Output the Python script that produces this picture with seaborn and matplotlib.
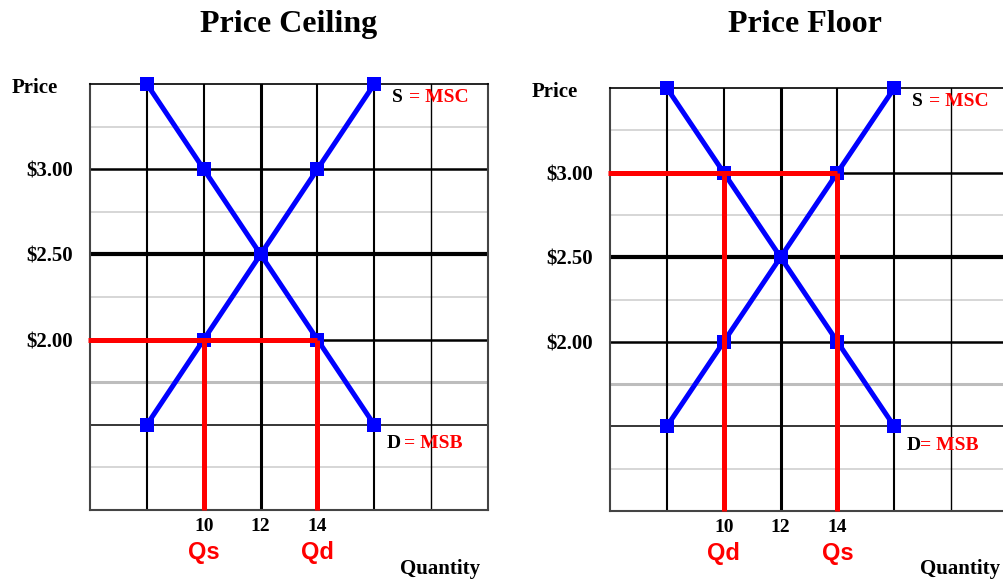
import numpy as np
import pandas as pd
import matplotlib
matplotlib.use("Agg")
import matplotlib.pyplot as plt
import seaborn as sns

# Supply / demand schedule (quantity vs price)
quantity = [8, 10, 12, 14, 16]
demand_price = [3.50, 3.00, 2.50, 2.00, 1.50]
supply_price = [1.50, 2.00, 2.50, 3.00, 3.50]

# Price controls
ceiling_price = 2.00
floor_price = 3.00

# Axis labelling
price_ticks = [3.00, 2.50, 2.00]
price_labels = ["$3.00", "$2.50", "$2.00"]
qty_ticks = [10, 12, 14]
qty_labels = ["10", "12", "14"]

sns.set_style("white")
plt.rcParams["font.family"] = ["Liberation Serif", "DejaVu Serif"]
plt.rcParams["text.color"] = "black"
plt.rcParams["xtick.color"] = "black"
plt.rcParams["ytick.color"] = "black"
plt.rcParams["axes.labelcolor"] = "black"

BLUE = "#0000FF"
RED = "#FF0000"
SERIF = ["Liberation Serif", "DejaVu Serif"]
SANS = ["Liberation Sans", "DejaVu Sans"]

fig = plt.figure(figsize=(10.04, 5.84), dpi=100)
W, H = 1004, 584


def px_axes(left, top, right, bottom):
    return fig.add_axes([left / W, 1 - bottom / H, (right - left) / W, (bottom - top) / H])


def draw_grid(ax):
    # quarter-dollar gridlines
    for p in [3.25, 2.75, 2.25, 1.25]:
        ax.axhline(p, color="#cccccc", lw=1.1, zorder=1)
    ax.axhline(1.75, color="#bdbdbd", lw=2.2, zorder=1)
    # half-dollar gridlines
    ax.axhline(3.00, color="black", lw=1.8, zorder=2)
    ax.axhline(2.50, color="black", lw=3.0, zorder=2)
    ax.axhline(2.00, color="black", lw=1.8, zorder=2)
    ax.axhline(1.50, color="black", lw=1.1, zorder=2)
    # quantity gridlines
    for q, w in [(8, 1.5), (10, 1.5), (12, 2.2), (14, 1.5), (16, 1.5), (18, 1.0)]:
        ax.axvline(q, color="black", lw=w, zorder=2)


def draw_panel(ax, title, title_x, control_price, left_tag, right_tag, d_gap):
    ax.set_xlim(6, 20)
    ax.set_ylim(1.0, 3.5)
    draw_grid(ax)

    for side in ["left", "bottom", "right"]:
        ax.spines[side].set_color("#444444")
        ax.spines[side].set_linewidth(1.5)
    ax.spines["top"].set_color("black")
    ax.spines["top"].set_linewidth(1.2)
    for s in ax.spines.values():
        s.set_zorder(3)

    df = pd.DataFrame({"Quantity": quantity, "Demand": demand_price, "Supply": supply_price})
    for col in ["Demand", "Supply"]:
        sns.lineplot(data=df, x="Quantity", y=col, ax=ax, color=BLUE, lw=3.6,
                     marker="s", markersize=9.5, markeredgewidth=0,
                     sort=False, zorder=4, clip_on=False)

    # quantities where the controlled price meets each curve
    q_demand = np.interp(control_price, demand_price[::-1], quantity[::-1])
    q_supply = np.interp(control_price, supply_price, quantity)
    q_lo, q_hi = min(q_demand, q_supply), max(q_demand, q_supply)

    ax.plot([5.93, q_hi], [control_price, control_price], color=RED, lw=3.6,
            zorder=5, clip_on=False, solid_capstyle="butt")
    for q in (q_lo, q_hi):
        ax.plot([q, q], [control_price, 1.0], color=RED, lw=3.6, zorder=5,
                solid_capstyle="butt", clip_on=False)

    ax.set_xticks(qty_ticks)
    ax.set_xticklabels(qty_labels, fontsize=14, fontweight="bold", family=SERIF)
    ax.set_yticks(price_ticks)
    ax.set_yticklabels(price_labels, fontsize=15, fontweight="bold", family=SERIF)
    ax.tick_params(axis="x", length=0, pad=6)
    ax.tick_params(axis="y", length=0, pad=12)
    ax.set_xlabel("")
    ax.set_ylabel("")

    fig.text(title_x / W, 1 - 32 / H, title, ha="center", va="baseline",
             fontsize=23, fontweight="bold", family=SERIF, color="black")

    ax.text(-0.196, 0.99, "Price", transform=ax.transAxes, ha="left", va="center",
            fontsize=15, fontweight="bold", family=SERIF)
    ax.text(0.78, -0.138, "Quantity", transform=ax.transAxes, ha="left", va="center",
            fontsize=15, fontweight="bold", family=SERIF)

    ax.text(q_lo, -0.10, left_tag, transform=ax.get_xaxis_transform(), ha="center",
            va="center", color=RED, fontsize=17, fontweight="bold", family=SANS)
    ax.text(q_hi, -0.10, right_tag, transform=ax.get_xaxis_transform(), ha="center",
            va="center", color=RED, fontsize=17, fontweight="bold", family=SANS)

    # curve labels
    ax.text(16.62, 3.42, "S", ha="left", va="center", fontsize=14, fontweight="bold",
            family=SERIF, color="black", zorder=6)
    ax.text(17.22, 3.42, "= MSC", ha="left", va="center", fontsize=14, fontweight="bold",
            family=SERIF, color=RED, zorder=6)
    ax.text(16.45, 1.39, "D", ha="left", va="center", fontsize=14,
            fontweight="bold", family=SERIF, color="black", zorder=6)
    ax.text(16.45 + d_gap, 1.39, "= MSB", ha="left", va="center", fontsize=14,
            fontweight="bold", family=SERIF, color=RED, zorder=6)


ax1 = px_axes(90, 84, 488, 510)
draw_panel(ax1, "Price Ceiling", 289, ceiling_price, "Qs", "Qd", 0.58)

ax2 = px_axes(610, 88, 1008, 511)
draw_panel(ax2, "Price Floor", 805, floor_price, "Qd", "Qs", 0.46)

fig.savefig("out.png", dpi=100)
